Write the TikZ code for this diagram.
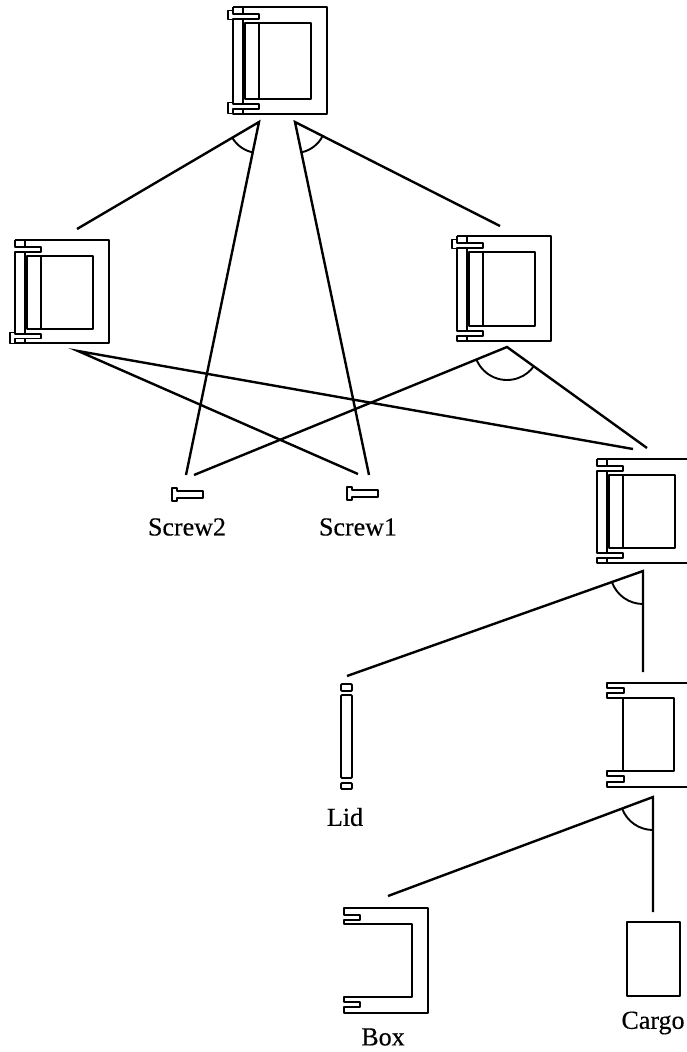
\documentclass[tikz,border=0pt]{standalone}
\usepackage{fontspec}
\setmainfont{Liberation Serif}
\newfontfamily\capfont[FakeBold=0.35]{Liberation Serif}
\usetikzlibrary{angles}
\tikzset{
  part/.style={draw=black,line width=1.9pt,line join=round,fill=none},
  link/.style={draw=black,line width=2.4pt},
  sector/.style={draw=black,line width=1.9pt},
  caption/.style={inner sep=0pt,font=\capfont\fontsize{26}{28}\selectfont},
  assembly/.pic={
    \draw[part] (0,0) -- (94,0) -- (94,105) -- (0,105) -- (0,100) -- (26,100) -- (26,95) -- (0,95) -- (0,12) -- (10,12) -- (10,95);
    \draw[part] (0,0) -- (0,7) -- (26,7) -- (26,12) -- (0,12);
    \draw[part] (10,0) -- (10,7);
    \draw[part] (10,100) -- (10,105);
    \draw[part] (12,16) -- (78,16) -- (78,90) -- (12,90) -- cycle;
    \draw[part] (26,16) -- (26,90);
  },
  headup/.pic={\draw[part] (0,-4.5) -- (-5,-4.5) -- (-5,4.5) -- (0,4.5);},
  headlow/.pic={\draw[part] (0,-5.5) -- (-5,-5.5) -- (-5,5.5) -- (0,5.5);},
  screw/.pic={\draw[part] (0,-6.5) -- (5,-6.5) -- (5,-3.5) -- (31,-3.5) -- (31,3.5) -- (5,3.5) -- (5,6.5) -- (0,6.5) -- cycle;}
}
\begin{document}
\begin{tikzpicture}[x=1pt,y=-1pt]
\useasboundingbox (0,0) rectangle (687,1052);
\clip (0,0) rectangle (687,1052);
% assemblies
\pic (top) [yscale=1.019] at (233,7) {assembly};
\pic at (233,15) {headup};
\pic at (233,108) {headlow};
\pic (lft) [yscale=0.985] at (15,240) {assembly};
\pic at (15,338) {headlow};
\pic (rgt) [yscale=1.0] at (457,236) {assembly};
\pic at (457,244) {headup};
\pic (sub) [yscale=0.99] at (597,459) {assembly};
% box + cargo sub assembly
\draw[part] (690,683) -- (607,683) -- (607,688) -- (624,688) -- (624,693) -- (607,693) -- (607,698) -- (674,698) -- (674,771) -- (607,771) -- (607,776) -- (624,776) -- (624,782) -- (607,782) -- (607,787) -- (690,787);
\draw[part] (623,698) -- (623,771);
% lid
\draw[part,rounded corners=1pt] (341,684) rectangle (352,691);
\draw[part,rounded corners=1pt] (341,695) rectangle (352,778);
\draw[part,rounded corners=1pt] (341,783) rectangle (352,789);
% box
\draw[part] (344,915) -- (344,908) -- (428,908) -- (428,1013) -- (344,1013) -- (344,1007) -- (360,1007) -- (360,1002) -- (344,1002) -- (344,997) -- (412,997) -- (412,924) -- (344,924) -- (344,920) -- (360,920) -- (360,915) -- cycle;
% cargo
\draw[part] (627,922) rectangle (680,996);
% screws
\pic at (172,494.5) {screw};
\pic at (347,493.5) {screw};
% labels
\node[caption] (lscrewb) at (187,527) {Screw2};
\node[caption] (lscrewa) at (358,527) {Screw1};
\node[caption] (llid) at (345,817) {Lid};
\node[caption] (lbox) at (383,1037) {Box};
\node[caption] (lcargo) at (653,1023) {Cargo};
% connector ends
\coordinate (a1) at (259,122);
\coordinate (a2) at (295,122);
\coordinate (a3) at (507,347);
\coordinate (a4) at (78,351);
\coordinate (a5) at (643,571);
\coordinate (a6) at (653,797);
\coordinate (e1) at (77,229);
\coordinate (e2) at (186,475);
\coordinate (e3) at (369,475);
\coordinate (e4) at (500,226);
\coordinate (e5) at (194,475);
\coordinate (e6) at (647,448);
\coordinate (e7) at (358,474);
\coordinate (e8) at (633,449);
\coordinate (e9) at (347,676);
\coordinate (e10) at (643,672);
\coordinate (e11) at (388,896);
\coordinate (e12) at (653,912);
\draw[link] (e1) -- (a1) -- (e2);
\draw[link] (e3) -- (a2) -- (e4);
\draw[link] (e5) -- (a3) -- (e6);
\draw[link] (e7) -- (a4) -- (e8);
\draw[link] (e9) -- (a5) -- (e10);
\draw[link] (e11) -- (a6) -- (e12);
\pic[sector,angle radius=31pt] {angle=e1--a1--e2};
\pic[sector,angle radius=31pt] {angle=e3--a2--e4};
\pic[sector,angle radius=33pt] {angle=e5--a3--e6};
\pic[sector,angle radius=33pt] {angle=e9--a5--e10};
\pic[sector,angle radius=33pt] {angle=e11--a6--e12};
\end{tikzpicture}
\end{document}
